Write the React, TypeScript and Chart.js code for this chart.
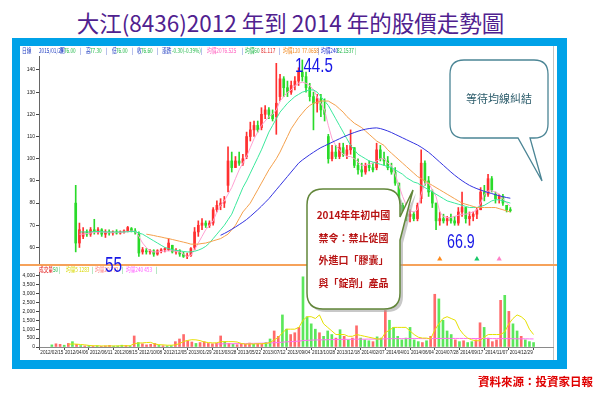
import React, { useEffect, useRef } from "react";
import { Chart, registerables } from "chart.js";

Chart.register(...registerables);

// ---------- data ----------
const dateLabels = [
  "2012/02/15", "2012/04/06", "2012/06/11", "2012/08/15", "2012/10/08",
  "2012/12/05", "2013/01/29", "2013/03/28", "2013/05/22", "2013/07/12",
  "2013/09/04", "2013/10/28", "2013/12/18", "2014/02/07", "2014/04/01",
  "2014/06/04", "2014/07/28", "2014/09/17", "2014/11/07", "2014/12/29",
];
const LABEL_STEP = 6;

const priceTicks = [60, 70, 80, 90, 100, 110, 120, 130, 140];
const volumeTicks = [0, 500, 1000, 1500, 2000, 2500, 3000, 3500, 4000];

const priceHigh = [
  88, 71, 69, 68, 69, 72.7, 69, 68.5, 68, 68,
  67.5, 68, 67.5, 68, 69.5, 69, 68.5, 67, 60, 59.5,
  59, 59, 59, 59.5, 60, 64, 61, 59.5, 59, 58,
  57.5, 60, 69, 72, 73, 72, 72, 78, 81, 82,
  83, 105.4, 103, 101, 103, 102, 112, 116.5, 117, 117,
  123, 124, 123, 122, 143, 138, 137, 135, 135, 137,
  141, 144.5, 139, 134, 130, 129, 129, 127, 111, 106,
  106, 107, 107, 106, 113, 105, 100, 98, 98, 99,
  98, 107, 106, 103, 101, 98, 96, 89, 80, 78,
  77, 76, 80, 104, 99, 92, 86, 80, 76, 75,
  74, 75, 74, 78, 85, 78, 76, 76, 78, 87,
  88, 93, 92, 85, 84, 84, 79, 78,
];
const priceLow = [
  58, 60, 64, 65, 65, 66, 66, 65, 64.5, 65.5,
  65.5, 66, 66, 66.5, 67, 67, 66, 56, 57, 57,
  57, 56, 56.5, 57.5, 58, 58.5, 57.5, 57, 56, 55.5,
  55, 56, 59, 65, 68, 69, 69, 70, 76, 77,
  78, 85, 94, 96, 97, 97, 100, 108, 110, 112,
  113, 118, 118, 117, 111, 126, 128, 128, 129, 131,
  133, 135, 130, 126, 113, 121, 119, 117, 98, 99,
  100, 100, 101, 100, 102, 96, 93, 92, 93, 94.5,
  94, 95, 99, 97, 95, 93, 88, 78, 74, 72,
  71.5, 72, 72, 80, 88, 83, 78, 68, 70, 71,
  70, 71, 70, 70, 74, 71, 70, 72, 73, 77,
  81, 83, 85, 80, 80, 79, 76, 76,
];
const priceOpen = [
  80, 62, 65, 67, 66, 68, 67, 68, 66, 67,
  66.5, 67, 66.5, 67, 67.5, 68.5, 67.5, 66, 58, 58.5,
  58, 58.5, 57, 58.5, 59, 59, 61, 58, 58.5, 57,
  56, 56.5, 60, 67, 70, 71, 70, 71, 77, 79,
  80, 88, 99, 96, 99, 98, 101, 110, 113, 115,
  114, 120, 122, 120, 119, 128, 136, 132, 130, 133,
  135, 139, 137, 132, 128, 125, 127, 122, 110, 100,
  103, 101, 105, 102, 104, 105, 97, 95, 94, 97,
  96, 96, 104, 100, 99, 96, 94, 89, 79, 76,
  74, 75, 73, 82, 98, 90, 85, 80, 72, 73,
  72, 73, 72, 71, 76, 78, 73, 74, 75, 77,
  85, 84, 91, 84, 82, 83, 79, 77,
];
const priceClose = [
  62, 68, 67, 66, 68, 67, 68, 66, 67, 66.5,
  67, 66.5, 67, 67.5, 69, 67.5, 67, 57.5, 59, 58,
  58.5, 57, 58.5, 59, 59.5, 62, 58, 58.5, 57, 56,
  56.5, 59.5, 67, 70, 71, 70, 71, 77, 79, 80,
  81, 99, 96, 99, 98, 100, 110, 113, 115, 113,
  120, 122, 120, 118, 125, 136, 132, 130, 133, 135,
  139, 137, 132, 128, 125, 127, 122, 120, 100, 103,
  101, 105, 102, 104, 106, 97, 95, 94, 97, 96,
  95, 104, 100, 99, 96, 94, 89, 79, 76, 74,
  75, 73, 79, 98, 90, 85, 80, 72, 73, 72,
  73, 72, 71, 76, 78, 73, 74, 75, 77, 85,
  83, 91, 86, 82, 83, 80, 77, 76.6,
];

const ma20 = [
  null, 66, 66, 66.3, 66.5, 66.8, 67, 67, 66.8, 66.7,
  66.7, 66.8, 66.8, 66.9, 67.2, 67.4, 67.3, 65, 62, 60,
  58.5, 58, 58, 58.2, 58.4, 58.5, 58.5, 58.3, 58, 57,
  56, 56.5, 59, 62, 65, 68, 70, 72, 76, 79,
  81, 84, 87, 91, 95, 98, 101, 105, 109, 112,
  115, 117, 119, 120, 122, 126, 128, 130, 131, 133,
  134, 134.5, 134, 133, 131, 128, 125, 122, 115, 109,
  106, 104, 102, 101, 101, 100, 98.5, 97, 97, 97.5,
  98, 99, 100, 100, 98, 97, 93, 88, 83, 79,
  76.5, 76, 77, 84, 89, 89, 86, 83, 76, 74,
  73.5, 73.5, 74, 74.5, 75, 75, 75.5, 76, 77, 80,
  84, 85.5, 85.5, 85, 84, 82, 80, 78.5,
];
const ma60 = [
  null, 67, 67, 67, 67, 67.2, 67.2, 67.1, 67, 67,
  67, 67, 67, 67, 67.1, 67.2, 67.2, 66.5, 66, 65,
  64, 63, 62, 61, 60, 59.5, 59, 58.7, 58.5, 58.2,
  58, 58, 58.3, 58.8, 59.5, 60.5, 62, 64, 66, 68,
  70, 72.5, 75, 79, 83, 87, 90, 93.5, 97, 100.5,
  104, 108, 112, 115, 118, 121, 123, 125, 126.5, 128,
  129, 130, 130.5, 131, 131, 130, 128, 126, 124, 121,
  118, 115, 112, 109, 106, 104, 102, 101, 100, 99,
  98.5, 98, 97.5, 97, 96.5, 96, 95, 94, 93, 91.5,
  90.5, 89.5, 89, 88, 87, 86, 85, 84, 83, 82,
  81, 80.5, 80, 79.5, 79, 78.5, 78, 78, 78, 78.5,
  79, 80, 81, 81.5, 81.5, 81, 80.5, 80,
];
const ma120 = [
  null, null, null, null, null, null, null, null, null, null,
  null, null, null, null, null, null, null, null, null, 66,
  65.7, 65.4, 65, 64.7, 64.3, 64, 63.6, 63.2, 62.8, 62.4,
  62, 61.5, 61.5, 61.5, 61.8, 62, 62.5, 63, 63.5, 64,
  65, 66, 68, 70, 73, 76, 78, 80, 83, 86,
  89, 92, 95, 97.5, 100, 103, 106.5, 110, 113.5, 116,
  118.5, 120.5, 122.5, 124, 125, 125.5, 126, 126, 126, 125,
  124, 122.5, 121, 119, 117.5, 116, 115, 114, 112.5, 111,
  109.5, 108, 107, 106, 104, 102.5, 101, 99.5, 98, 96.5,
  95, 93.5, 92, 91, 90, 89, 88, 87, 86, 85,
  84, 83, 82, 81, 80, 79.5, 79, 78.5, 78, 78,
  78, 78, 78, 78, 77.5, 77, 76.5, 76,
];
const ma240 = [
  null, null, null, null, null, null, null, null, null, null,
  null, null, null, null, null, null, null, null, null, null,
  null, null, null, null, null, null, null, null, null, null,
  null, null, null, null, null, null, null, null, null, 65.5,
  66.3, 67.2, 68.2, 69.2, 70.3, 71.4, 72.6, 74, 75.5, 77,
  78.6, 80.3, 82, 84, 86, 88, 90, 92, 94, 96,
  98, 99.4, 100.6, 101.8, 102.9, 104, 105, 105.8, 106.6, 107.4,
  108.2, 109, 109.8, 110.5, 111.2, 111.8, 112.4, 112.9, 113.3, 113.6,
  113.8, 113.9, 113.6, 113.1, 112.5, 111.8, 111, 110.2, 109.4, 108.6,
  107.8, 107, 106.2, 105.2, 104.1, 102.9, 101.5, 100, 98.5, 97,
  95.5, 94, 92.6, 91.3, 90.1, 89, 88, 87.2, 86.5, 85.9,
  85.3, 84.8, 84.3, 83.8, 83.3, 82.9, 82.5, 82.2,
];

const volume = [
  120, 180, 150, 100, 200, 300, 150, 80, 60, 90,
  50, 70, 40, 60, 90, 50, 60, 100, 80, 60,
  620, 250, 180, 120, 150, 200, 90, 70, 60, 80,
  300, 450, 700, 350, 280, 200, 250, 300, 200, 180,
  220, 620, 300, 200, 150, 130, 180, 150, 220, 150,
  200, 180, 250, 450, 900, 600, 1800, 1000, 700, 800,
  1100, 3940, 1700, 1300, 1000, 800, 600, 900, 700, 500,
  970, 600, 400, 500, 1190, 500, 400, 350, 300, 570,
  500, 2050, 1500, 1100, 600, 400, 500, 1100, 400, 300,
  250, 350, 600, 2960, 2700, 1500, 900, 700, 400, 300,
  350, 250, 300, 400, 1360, 1100, 500, 300, 400, 2620,
  2900, 2000, 1300, 900, 600, 400, 300, 250,
];
const volMa5 = [
  null, null, null, null, 150, 170, 160, 140, 120, 90,
  70, 70, 60, 60, 60, 60, 60, 70, 70, 70,
  190, 220, 230, 250, 260, 170, 130, 120, 100, 100,
  120, 190, 310, 370, 410, 400, 360, 280, 250, 230,
  230, 300, 300, 300, 300, 280, 200, 160, 170, 170,
  180, 180, 200, 250, 400, 540, 800, 1000, 1000, 1000,
  1100, 1500, 1700, 1700, 1600, 1800, 1300, 1100, 900, 700,
  700, 700, 600, 600, 700, 650, 600, 550, 500, 450,
  450, 800, 950, 1100, 1100, 1100, 1100, 900, 700, 550,
  500, 500, 450, 950, 1300, 1600, 1700, 1600, 1500, 1000,
  700, 500, 400, 350, 350, 550, 700, 700, 700, 700,
  850, 1300, 1600, 1800, 1700, 1500, 1000, 700,
];
const volMa240 = [
  null, null, null, null, null, null, null, null, null, null,
  null, null, null, null, null, null, null, null, null, null,
  null, null, null, null, null, null, null, null, null, null,
  null, null, null, null, null, null, null, null, null, null,
  170, 175, 180, 180, 185, 190, 190, 195, 200, 205,
  210, 215, 220, 230, 240, 250, 270, 290, 300, 310,
  330, 360, 375, 385, 395, 400, 405, 410, 415, 420,
  425, 430, 430, 435, 440, 440, 440, 445, 445, 445,
  450, 460, 465, 470, 470, 470, 470, 475, 475, 475,
  470, 470, 470, 475, 478, 480, 482, 482, 481, 480,
  480, 480, 478, 476, 476, 475, 474, 472, 472, 471,
  470, 470, 465, 460, 460, 458, 455, 453,
];

const signalIdx = [98, 108, 114];
const signalColors = ["#FF8A1C", "#18C868", "#FF80C8"];
const SIGNAL_LEVEL = 54.8;

const headerItems: [string, string, number][] = [
  ["日線", "#1E3CC0", 22], ["2015/01/29", "#1E3CC0", 39],
  ["開", "#1E3CC0", 60], ["76.00", "#22B84A", 64], ["|", "#1E3CC0", 80],
  ["高", "#1E3CC0", 86], ["77.30", "#22B84A", 90], ["|", "#1E3CC0", 106],
  ["低", "#1E3CC0", 112], ["76.00", "#22B84A", 116], ["|", "#1E3CC0", 132],
  ["收", "#1E3CC0", 137], ["76.60", "#22B84A", 141], ["|", "#1E3CC0", 157],
  ["漲跌", "#1E3CC0", 162], ["-0.30(-0.39%)", "#22B84A", 172], ["|", "#1E3CC0", 201],
  ["均價20", "#FF5FBF", 207], ["76.525", "#FF5FBF", 222], ["|", "#1E3CC0", 242],
  ["均價60", "#22B84A", 245], ["81.117", "#E02020", 261], ["|", "#1E3CC0", 279],
  ["均價120", "#F08A20", 283], ["77.0658", "#F08A20", 302], ["|", "#1E3CC0", 318],
  ["均價240", "#2030D0", 321], ["82.1537", "#22B84A", 337], ["|", "#22B84A", 355],
];
const volLegendItems: [string, string, number][] = [
  ["成交量", "#E01010", 39], ["50", "#22B84A", 53], ["|", "#22B84A", 59],
  ["均量5 1283", "#D8D800", 66], ["|", "#22B84A", 92],
  ["均量20 772", "#FF8080", 95], ["|", "#22B84A", 122],
  ["均量240 453", "#FF60FF", 126], ["|", "#22B84A", 156],
];

const calloutLines = ["2014年年初中國", "禁令：禁止從國", "外進口「膠囊」", "與「錠劑」產品"];

// ---------- helpers ----------
const PRICE_MIN = 53;
const PRICE_MAX = 146.3;
const VOL_MAX = 4210;
const X_MAX = 118.6;
const UP = "#FF3030";
const DOWN = "#2ADA2A";

const toXY = (arr: (number | null)[]) => arr.map((v, i) => ({ x: i, y: v }));

export default function App() {
  const priceRef = useRef<HTMLCanvasElement>(null);
  const volRef = useRef<HTMLCanvasElement>(null);

  useEffect(() => {
    Chart.defaults.font.family = '"Liberation Sans", Arial, sans-serif';
    const isUp = priceClose.map((c, i) => c >= priceOpen[i]);
    const candleColor = isUp.map((u) => (u ? UP : DOWN));
    const volColor = isUp.map((u) => (u ? "rgba(255,70,70,0.8)" : "rgba(50,225,50,0.8)"));

    const wickData = priceHigh.map((h, i) => ({ x: i, y: [priceLow[i], h] }));
    const bodyData = priceOpen.map((o, i) => ({
      x: i,
      y: [Math.min(o, priceClose[i]), Math.max(o, priceClose[i])],
    }));

    const lineDs = (arr: (number | null)[], color: string) => ({
      type: "line" as const,
      data: toXY(arr),
      borderColor: color,
      borderWidth: 1,
      pointRadius: 0,
      spanGaps: false,
      order: 0,
    });

    const yTickFont = { font: { size: 5 }, color: "#222", padding: 1 };

    const pc = new Chart(priceRef.current!, {
      type: "bar",
      data: {
        datasets: [
          lineDs(ma240, "#3333E0"),
          lineDs(ma120, "#F4A04C"),
          lineDs(ma60, "#3BE89C"),
          lineDs(ma20, "#FFA0D2"),
          {
            type: "bar",
            data: wickData as any,
            backgroundColor: candleColor,
            barThickness: 1,
            grouped: false,
            borderWidth: 0,
            order: 2,
          },
          {
            type: "bar",
            data: bodyData as any,
            backgroundColor: candleColor,
            barThickness: 2,
            minBarLength: 1,
            grouped: false,
            borderWidth: 0,
            order: 2,
          },
          {
            type: "scatter",
            data: signalIdx.map((i) => ({ x: i, y: SIGNAL_LEVEL })),
            pointStyle: "triangle",
            pointRadius: 3,
            backgroundColor: signalColors,
            borderWidth: 0,
            order: 0,
          } as any,
        ],
      },
      options: {
        responsive: false,
        animation: false,
        events: [],
        layout: { padding: { left: 0, right: 5, top: 11, bottom: 4 } },
        plugins: { legend: { display: false }, tooltip: { enabled: false } },
        scales: {
          x: { type: "linear", min: 0, max: X_MAX, display: false },
          y: {
            type: "linear",
            min: PRICE_MIN,
            max: PRICE_MAX,
            afterFit: (s: any) => {
              s.width = 21;
            },
            afterBuildTicks: (s: any) => {
              s.ticks = priceTicks.map((v) => ({ value: v }));
            },
            ticks: yTickFont,
            grid: { drawOnChartArea: false, tickLength: 3, color: "#444" },
            border: { display: true, color: "#666" },
          },
        },
      } as any,
    });

    const vc = new Chart(volRef.current!, {
      type: "bar",
      data: {
        datasets: [
          lineDs(volMa5, "#E6E000"),
          lineDs(volMa240, "#FF70F0"),
          {
            type: "bar",
            data: toXY(volume) as any,
            backgroundColor: volColor,
            barThickness: 2,
            grouped: false,
            borderWidth: 0,
            order: 2,
          },
        ],
      },
      options: {
        responsive: false,
        animation: false,
        events: [],
        layout: { padding: { left: 0, right: 5, top: 6, bottom: 0 } },
        plugins: { legend: { display: false }, tooltip: { enabled: false } },
        scales: {
          x: {
            type: "linear",
            min: 0,
            max: X_MAX,
            afterBuildTicks: (s: any) => {
              s.ticks = dateLabels.map((_, k) => ({ value: k * LABEL_STEP }));
            },
            afterFit: (s: any) => {
              s.height = 13;
            },
            ticks: {
              autoSkip: false,
              maxRotation: 0,
              padding: 0,
              font: { size: 4.6 },
              color: "#222",
              callback: (v: number) => dateLabels[Math.round(v / LABEL_STEP)] ?? "",
            },
            grid: { drawOnChartArea: false, tickLength: 3, color: "#555" },
            border: { display: true, color: "#8A8A8A" },
          },
          y: {
            type: "linear",
            min: 0,
            max: VOL_MAX,
            afterFit: (s: any) => {
              s.width = 21;
            },
            afterBuildTicks: (s: any) => {
              s.ticks = volumeTicks.map((v) => ({ value: v }));
            },
            ticks: {
              ...yTickFont,
              callback: (v: number) => Number(v).toLocaleString("en-US"),
            },
            grid: { drawOnChartArea: false, tickLength: 3, color: "#444" },
            border: { display: true, color: "#666" },
          },
        },
      } as any,
    });

    return () => {
      pc.destroy();
      vc.destroy();
    };
  }, []);

  const tinySpan = (t: [string, string, number], top: number, k: number) => (
    <span
      key={k}
      style={{
        position: "absolute",
        left: t[2],
        top,
        fontSize: 6.5,
        lineHeight: "7px",
        color: t[1],
        whiteSpace: "nowrap",
        transform: "scaleX(0.72)",
        transformOrigin: "left top",
        fontFamily: '"Noto Sans CJK TC", "Liberation Sans", sans-serif',
      }}
    >
      {t[0]}
    </span>
  );

  const bigNum = (text: string, left: number, top: number, size: number, sx: number) => (
    <div
      style={{
        position: "absolute",
        left,
        top,
        fontSize: size,
        lineHeight: 1,
        color: "#1818E6",
        fontFamily: '"Liberation Sans", Arial, sans-serif',
        transform: `scaleX(${sx})`,
        transformOrigin: "left top",
        whiteSpace: "nowrap",
      }}
    >
      {text}
    </div>
  );

  return (
    <div
      style={{
        position: "absolute",
        left: 0,
        top: 0,
        width: 600,
        height: 397,
        background: "#fff",
        overflow: "hidden",
        fontFamily: '"Noto Sans CJK TC", sans-serif',
      }}
    >
      {/* title */}
      <div
        style={{
          position: "absolute",
          left: 0,
          top: 11,
          width: 581,
          textAlign: "center",
          fontSize: 22.5,
          lineHeight: 1,
          color: "#50218F",
          whiteSpace: "nowrap",
        }}
      >
        大江(8436)2012 年到 2014 年的股價走勢圖
      </div>

      {/* frame */}
      <div style={{ position: "absolute", left: 12, top: 38, width: 555, height: 331, background: "#00A2E8" }} />
      <div style={{ position: "absolute", left: 20, top: 46, width: 537, height: 314, background: "#fff" }} />
      <div style={{ position: "absolute", left: 553, top: 46, width: 1, height: 314, background: "#C4C4C4" }} />

      <canvas
        ref={priceRef}
        width={540}
        height={222}
        style={{ position: "absolute", left: 18, top: 45, width: 540, height: 222 }}
      />
      <canvas
        ref={volRef}
        width={540}
        height={94}
        style={{ position: "absolute", left: 18, top: 266, width: 540, height: 94 }}
      />

      {/* separator */}
      <div style={{ position: "absolute", left: 20, top: 264, width: 537, height: 2, background: "#F6A25A" }} />

      {/* header + volume legend */}
      {headerItems.map((t, k) => tinySpan(t, 47, k))}
      {volLegendItems.map((t, k) => tinySpan(t, 266, 100 + k))}

      {/* callouts */}
      <svg
        width={600}
        height={397}
        style={{ position: "absolute", left: 0, top: 0, pointerEvents: "none" }}
      >
        <path
          d="M 464 60 H 534 Q 548 60 548 74 V 124 Q 548 138 534 138 H 530 L 542 181 L 518 138 H 464 Q 450 138 450 124 V 74 Q 450 60 464 60 Z"
          fill="#fff"
          stroke="#4B8595"
          strokeWidth={1.3}
        />
        <path
          d="M 326 192 H 387 Q 403 192 403 208 V 220 L 416 193 L 403 243 V 296 Q 403 312 387 312 H 326 Q 310 312 310 296 V 208 Q 310 192 326 192 Z"
          fill="#9a9a9a"
          opacity={0.55}
        />
        <path
          d="M 323 189 H 384 Q 400 189 400 205 V 217 L 413 190 L 400 240 V 293 Q 400 309 384 309 H 323 Q 307 309 307 293 V 205 Q 307 189 323 189 Z"
          fill="#fff"
          stroke="#62863A"
          strokeWidth={1.5}
        />
      </svg>

      <div
        style={{
          position: "absolute",
          left: 450,
          top: 91,
          width: 98,
          textAlign: "center",
          fontSize: 11,
          lineHeight: "14px",
          color: "#2C5C6B",
          whiteSpace: "nowrap",
        }}
      >
        等待均線糾結
      </div>

      {calloutLines.map((line, k) => (
        <div
          key={k}
          style={{
            position: "absolute",
            left: 307,
            top: 208 + k * 22.5,
            width: 93,
            textAlign: "center",
            fontSize: 10,
            lineHeight: "14px",
            fontWeight: "bold",
            color: "#B81414",
            whiteSpace: "nowrap",
          }}
        >
          {line}
        </div>
      ))}

      {/* price annotations */}
      {bigNum("144.5", 295, 54, 21, 0.72)}
      {bigNum("55", 105, 254, 22, 0.7)}
      {bigNum("66.9", 447, 230, 21, 0.68)}

      {/* source */}
      <div
        style={{
          position: "absolute",
          left: 478,
          top: 373,
          fontSize: 11.5,
          lineHeight: "16px",
          fontWeight: "bold",
          color: "#E00000",
          whiteSpace: "nowrap",
        }}
      >
        資料來源：投資家日報
      </div>
    </div>
  );
}
